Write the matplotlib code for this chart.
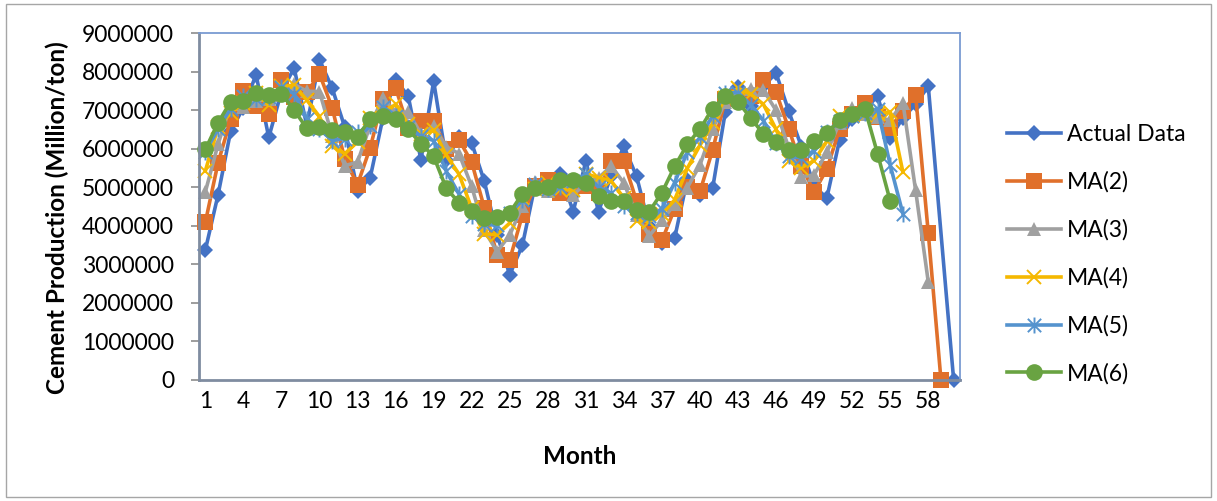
import matplotlib
matplotlib.use("Agg")
import matplotlib.pyplot as plt
from matplotlib.path import Path
from matplotlib.patches import Rectangle

# ---------------- data (values in millions of tons) ----------------
months = list(range(1, 61))
actual = [3.37, 4.80, 6.46, 7.06, 7.92, 6.29, 7.48, 8.09, 6.60, 8.31,
          7.57, 6.55, 4.89, 5.25, 6.80, 7.79, 7.36, 5.71, 7.75, 5.70,
          6.30, 6.15, 5.15, 3.77, 2.73, 3.50, 5.06, 5.00, 5.35, 4.37,
          5.67, 4.37, 5.30, 6.06, 5.28, 4.00, 3.55, 3.68, 5.20, 4.80,
          4.98, 6.96, 7.60, 7.10, 7.62, 7.96, 6.97, 6.05, 5.03, 4.72,
          6.22, 6.78, 7.02, 7.36, 6.28, 6.80, 7.15, 7.62, None, 0.0]
ma2 = [4.09, 5.63, 6.76, 7.49, 7.11, 6.89, 7.79, 7.35, 7.46, 7.94,
       7.06, 5.72, 5.07, 6.03, 7.30, 7.58, 6.54, 6.73, 6.73, 6.00,
       6.23, 5.65, 4.46, 3.25, 3.12, 4.28, 5.03, 5.18, 4.86, 5.02,
       5.02, 4.84, 5.68, 5.67, 4.64, 3.78, 3.62, 4.44, 5.00, 4.89,
       5.97, 7.28, 7.35, 7.36, 7.79, 7.47, 6.51, 5.54, 4.88, 5.47,
       6.50, 6.90, 7.19, 6.82, 6.54, 6.98, 7.39, 3.81, 0.0]
ma3 = [4.88, 6.11, 7.15, 7.09, 7.23, 7.29, 7.39, 7.67, 7.49, 7.48,
       6.34, 5.56, 5.65, 6.61, 7.32, 6.95, 6.94, 6.39, 6.58, 6.05,
       5.87, 5.02, 3.88, 3.33, 3.76, 4.52, 5.14, 4.91, 5.13, 4.80,
       5.11, 5.24, 5.55, 5.11, 4.28, 3.74, 4.14, 4.56, 4.99, 5.58,
       6.51, 7.22, 7.44, 7.56, 7.52, 6.99, 6.02, 5.27, 5.32, 5.91,
       6.67, 7.05, 6.89, 6.81, 6.74, 7.19, 4.92, 2.54]
ma4 = [5.42, 6.56, 6.93, 7.19, 7.45, 7.12, 7.62, 7.64, 7.26, 6.83,
       6.07, 5.87, 6.18, 6.80, 6.92, 7.15, 6.63, 6.37, 6.48, 5.83,
       5.34, 4.45, 3.79, 3.77, 4.07, 4.73, 4.95, 5.10, 4.94, 4.93,
       5.35, 5.25, 5.16, 4.72, 4.13, 4.11, 4.31, 4.67, 5.49, 6.09,
       6.66, 7.32, 7.57, 7.41, 7.15, 6.50, 5.69, 5.51, 5.69, 6.19,
       6.85, 6.86, 6.87, 6.90, 6.96, 5.39]
ma5 = [5.92, 6.51, 7.04, 7.37, 7.28, 7.35, 7.61, 7.42, 6.78, 6.51,
       6.21, 6.26, 6.42, 6.58, 7.08, 6.86, 6.56, 6.32, 6.21, 5.41,
       4.82, 4.26, 4.04, 4.01, 4.33, 4.66, 5.09, 4.95, 5.01, 5.15,
       5.34, 5.00, 4.84, 4.51, 4.34, 4.25, 4.44, 5.12, 5.91, 6.29,
       6.85, 7.45, 7.45, 7.14, 6.73, 6.15, 5.80, 5.76, 5.95, 6.42,
       6.73, 6.85, 6.92, 7.04, 5.57, 4.31]
ma6 = [5.98, 6.67, 7.22, 7.24, 7.45, 7.39, 7.43, 7.00, 6.53, 6.56,
       6.48, 6.44, 6.30, 6.78, 6.85, 6.77, 6.50, 6.13, 5.80, 4.97,
       4.60, 4.39, 4.20, 4.24, 4.34, 4.83, 4.97, 5.01, 5.19, 5.18,
       5.11, 4.76, 4.65, 4.63, 4.42, 4.37, 4.86, 5.54, 6.11, 6.51,
       7.04, 7.37, 7.22, 6.79, 6.39, 6.16, 5.96, 5.97, 6.19, 6.40,
       6.74, 6.90, 7.04, 5.87, 4.64]

series_names = ["Actual Data", "MA(2)", "MA(3)", "MA(4)", "MA(5)", "MA(6)"]
yticks = [0, 1000000, 2000000, 3000000, 4000000, 5000000, 6000000,
          7000000, 8000000, 9000000]
xtick_labels = [1, 4, 7, 10, 13, 16, 19, 22, 25, 28, 31, 34, 37, 40,
                43, 46, 49, 52, 55, 58]

# ---------------- style ----------------
plt.rcParams["font.family"] = ["Lato", "DejaVu Sans"]
FS = 16.5

W, H = 1217, 501
AX_L, AX_R, AX_T, AX_B = 199, 960, 33, 380
fig = plt.figure(figsize=(W / 100, H / 100), dpi=100)
ax = fig.add_axes([AX_L / W, 1 - AX_B / H, (AX_R - AX_L) / W, (AX_B - AX_T) / H])

# asterisk marker (x plus vertical bar)
ast = Path([(-0.5, -0.5), (0.5, 0.5), (-0.5, 0.5), (0.5, -0.5),
            (0, -0.6), (0, 0.6)],
           [Path.MOVETO, Path.LINETO, Path.MOVETO, Path.LINETO,
            Path.MOVETO, Path.LINETO])

styles = [
    dict(color="#4472C4", marker="D", ms=8.6, mew=0),
    dict(color="#E0702B", marker="s", ms=11.0, mew=0),
    dict(color="#A0A0A0", marker="^", ms=10.5, mew=0),
    dict(color="#F5B800", marker="x", ms=10.5, mew=1.4),
    dict(color="#5593CE", marker=ast, ms=11.5, mew=1.4),
    dict(color="#69A342", marker="o", ms=12.0, mew=0),
]

all_series = [actual, ma2, ma3, ma4, ma5, ma6]
handles = []
for name, vals, st in zip(series_names, all_series, styles):
    xs = [m for m, v in zip(months, vals) if v is not None]
    ys = [v * 1e6 for v in vals if v is not None]
    ln, = ax.plot(xs, ys, color=st["color"], lw=2.6, marker=st["marker"],
                  ms=st["ms"], mew=st["mew"], mec=st["color"],
                  mfc=st["color"], clip_on=False, label=name,
                  solid_joinstyle="round")
    handles.append(ln)

ax.set_xlim(0.5, 60.5)
ax.set_ylim(0, 9000000)
ax.set_yticks(yticks)
ax.set_yticklabels([str(v) for v in yticks])
ax.set_xticks(xtick_labels)
ax.set_xticklabels([str(v) for v in xtick_labels])
ax.tick_params(axis="y", length=6, width=1.2, color="#8C8C8C", pad=12,
               labelsize=FS, labelcolor="#000000")
ax.tick_params(axis="x", length=0, pad=8, labelsize=FS, labelcolor="#000000")

for side in ("left", "bottom"):
    ax.spines[side].set_color("#7F8CA0")
    ax.spines[side].set_linewidth(2.0)
for side in ("top", "right"):
    ax.spines[side].set_color("#7A9BD2")
    ax.spines[side].set_linewidth(1.3)

ax.set_ylabel("Cement Production (Million/ton)", fontsize=17.5,
              fontweight="bold", va="center")
ax.yaxis.set_label_coords((57 - AX_L) / (AX_R - AX_L),
                          (AX_B - 218) / (AX_B - AX_T))
ax.set_xlabel("Month", fontsize=17.5, fontweight="bold", va="center")
ax.xaxis.set_label_coords((580 - AX_L) / (AX_R - AX_L),
                          -(457 - AX_B) / (AX_B - AX_T))

leg = fig.legend(handles=handles, labels=series_names, loc="upper left",
                 bbox_to_anchor=(998 / W, 1 - 115 / H), frameon=False,
                 fontsize=FS, handlelength=2.35, handletextpad=0.25,
                 labelspacing=1.15, borderaxespad=0)

fig.patches.append(Rectangle((6 / W, 4 / H), (1211 - 6) / W, (497 - 4) / H,
                             transform=fig.transFigure, fill=False,
                             edgecolor="#A6A6A6", linewidth=1.0))

fig.savefig("out.png", dpi=100)
